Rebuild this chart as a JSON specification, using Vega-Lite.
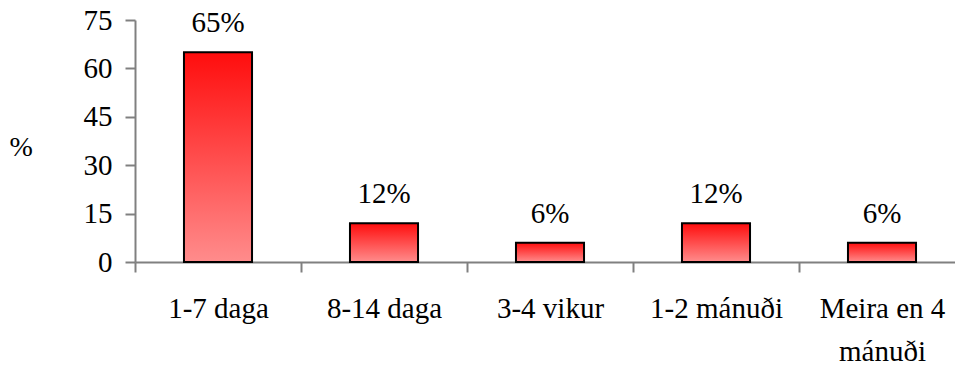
{
  "$schema": "https://vega.github.io/schema/vega-lite/v6.json",
  "autosize": "none",
  "padding": {"left": 135, "top": 20, "right": 0, "bottom": 103},
  "width": 830,
  "height": 242,
  "background": "white",
  "config": {
    "font": "Liberation Serif",
    "view": {"stroke": null},
    "axis": {"grid": false, "labelFont": "Liberation Serif", "titleFont": "Liberation Serif", "labelColor": "black", "titleColor": "black"}
  },
  "data": {
    "values": [
      {"category": "1-7 daga", "value": 65, "label": "65%"},
      {"category": "8-14 daga", "value": 12, "label": "12%"},
      {"category": "3-4 vikur", "value": 6, "label": "6%"},
      {"category": "1-2 mánuði", "value": 12, "label": "12%"},
      {"category": "Meira en 4 mánuði", "value": 6, "label": "6%"}
    ]
  },
  "encoding": {
    "x": {
      "field": "category",
      "type": "nominal",
      "sort": null,
      "scale": {"paddingInner": 0, "paddingOuter": 0},
      "axis": {
        "title": null,
        "labelAngle": 0,
        "labelFontSize": 29,
        "labelPadding": 22,
        "labelLineHeight": 43,
        "labelExpr": "datum.label == 'Meira en 4 mánuði' ? ['Meira en 4', 'mánuði'] : datum.label",
        "tickBand": "extent",
        "tickSize": 10,
        "tickColor": "#808080",
        "tickWidth": 2,
        "domainColor": "#808080",
        "domainWidth": 2
      }
    },
    "y": {
      "field": "value",
      "type": "quantitative",
      "scale": {"domain": [0, 75], "nice": false},
      "axis": {
        "title": "%",
        "titleAngle": 0,
        "titleFontSize": 28,
        "titleFontWeight": "normal",
        "titleX": -126,
        "titleY": 127,
        "titleAlign": "left",
        "titleBaseline": "middle",
        "values": [0, 15, 30, 45, 60, 75],
        "labelFontSize": 29,
        "labelPadding": 13,
        "tickSize": 10,
        "tickColor": "#808080",
        "tickWidth": 2,
        "domainColor": "#808080",
        "domainWidth": 2
      }
    }
  },
  "layer": [
    {
      "mark": {
        "type": "bar",
        "width": {"band": 0.41},
        "stroke": "black",
        "strokeWidth": 2,
        "fill": {
          "gradient": "linear",
          "x1": 0, "y1": 0, "x2": 0, "y2": 1,
          "stops": [
            {"offset": 0, "color": "#ff0d0d"},
            {"offset": 1, "color": "#ff8c8c"}
          ]
        }
      }
    },
    {
      "mark": {"type": "text", "dy": -20, "baseline": "alphabetic", "fontSize": 29, "font": "Liberation Serif", "color": "black"},
      "encoding": {"text": {"field": "label"}}
    }
  ]
}
